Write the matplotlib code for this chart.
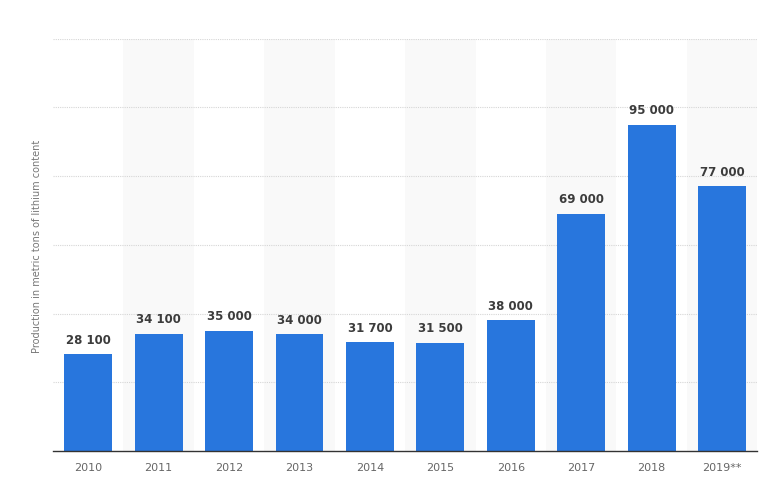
import numpy as np
import matplotlib
matplotlib.use('Agg')
import matplotlib.pyplot as plt

### Data
years = ['2010', '2011', '2012', '2013', '2014', '2015', '2016', '2017', '2018', '2019**']
production = [28100, 34100, 35000, 34000, 31700, 31500, 38000, 69000, 95000, 77000]

### Plot
fig = plt.figure(figsize=(7.68, 4.85), dpi=100)
ax = fig.add_axes([0.069, 0.068, 0.917, 0.850])

x = np.arange(len(years))

# alternating column bands
for i in x:
    if i % 2 == 1:
        ax.axvspan(i - 0.5, i + 0.5, color='#f9f9f9', zorder=0, lw=0)

ax.set_ylim(0, 120000)
ax.set_xlim(-0.5, len(years) - 0.5)
ax.set_yticks(np.arange(20000, 120001, 20000))
ax.yaxis.grid(True, color='#d6d6d6', linestyle=(0, (1, 1)), linewidth=0.8, zorder=1)
ax.set_axisbelow(True)

bars = ax.bar(x, production, width=0.68, color='#2876dd', zorder=2)

for xi, v in zip(x, production):
    ax.text(xi, v + 2500, '{:,}'.format(v).replace(',', ' '), ha='center', va='bottom',
            fontsize=8.5, fontweight='bold', color='#3c3c3c')

ax.set_xticks(x)
ax.set_xticklabels(years, fontsize=8, color='#666666')
ax.tick_params(axis='x', length=0, pad=8)
ax.tick_params(axis='y', length=0, labelleft=False)

for s in ['top', 'right', 'left']:
    ax.spines[s].set_visible(False)
ax.spines['bottom'].set_color('#333333')
ax.spines['bottom'].set_linewidth(1.0)
ax.spines['bottom'].set_zorder(3)

ax.set_ylabel('Production in metric tons of lithium content', fontsize=7, color='#777777', labelpad=8)

plt.savefig('out.png', dpi=100)
